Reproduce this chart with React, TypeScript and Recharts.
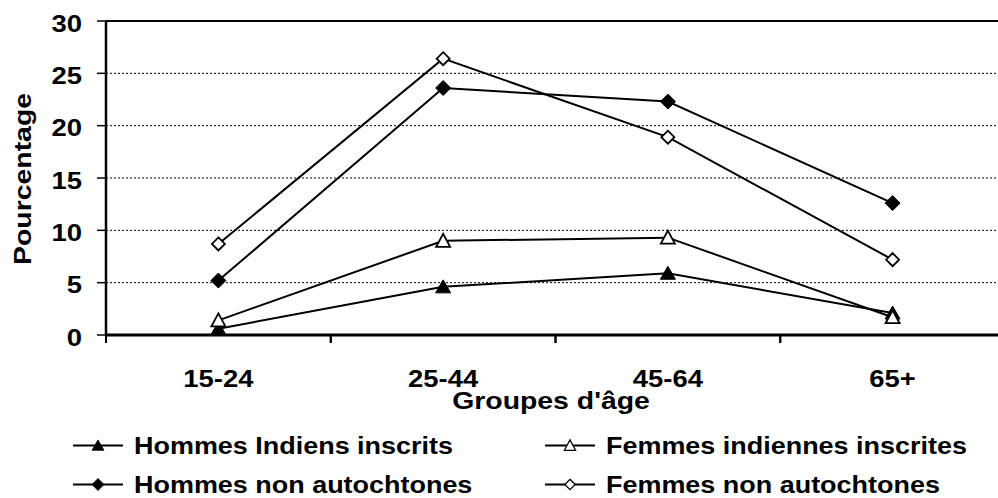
import { LineChart, Line, XAxis, YAxis, CartesianGrid, ReferenceLine } from "recharts";

// age groups and percentages
const AGES = ["15-24", "25-44", "45-64", "65+"];
const HOMMES_INDIENS = [0.6, 4.6, 5.9, 2.1];
const FEMMES_INDIENNES = [1.4, 9.0, 9.3, 1.7];
const HOMMES_NON_AUTO = [5.2, 23.6, 22.3, 12.6];
const FEMMES_NON_AUTO = [8.7, 26.4, 18.9, 7.2];
const Y_TICKS = [0, 5, 10, 15, 20, 25, 30];

const SERIES = [
  { key: "hi", name: "Hommes Indiens inscrits", values: HOMMES_INDIENS, shape: "triangle", filled: true },
  { key: "fi", name: "Femmes indiennes inscrites", values: FEMMES_INDIENNES, shape: "triangle", filled: false },
  { key: "hn", name: "Hommes non autochtones", values: HOMMES_NON_AUTO, shape: "diamond", filled: true },
  { key: "fn", name: "Femmes non autochtones", values: FEMMES_NON_AUTO, shape: "diamond", filled: false },
];

const data = AGES.map((age, i) => {
  const row: Record<string, string | number> = { age };
  SERIES.forEach((s) => (row[s.key] = s.values[i]));
  return row;
});

const FONT = "'Liberation Sans', Arial, sans-serif";
const FONT_SIZE = 24.5;
const HALF_BAND = 112.4;

// bold text, stretched along its own direction (reference text is wider than Arial)
const Txt = ({ x, y, anchor = "start", rotate = 0, stretch = 1.12, children }: any) => (
  <text
    transform={`translate(${x},${y}) rotate(${rotate}) scale(${stretch},1)`}
    x={0}
    y={0}
    textAnchor={anchor}
    fontFamily={FONT}
    fontWeight="bold"
    fontSize={FONT_SIZE}
    fill="#000"
  >
    {children}
  </text>
);

const markerPath = (shape: string, cx: number, cy: number, filled: boolean) => {
  if (shape === "triangle") {
    const w = filled ? 7.5 : 7;
    return `M${cx},${cy - 7} L${cx + w},${cy + 6} L${cx - w},${cy + 6} Z`;
  }
  const r = filled ? 7.5 : 6.5;
  return `M${cx},${cy - r} L${cx + r},${cy} L${cx},${cy + r} L${cx - r},${cy} Z`;
};

const makeDot = (shape: string, filled: boolean) => (props: any) => {
  const { cx, cy, index } = props;
  return (
    <path
      key={`dot-${shape}-${filled}-${index}`}
      d={markerPath(shape, cx, cy, filled)}
      fill={filled ? "#000" : "#fff"}
      stroke="#000"
      strokeWidth={filled ? 1 : 1.8}
    />
  );
};

const AgeTick = (props: any) => {
  const { x, y, payload } = props;
  return (
    <g>
      <line x1={x - HALF_BAND} x2={x - HALF_BAND} y1={y - 8} y2={y} stroke="#000" strokeWidth={2} />
      <line x1={x + HALF_BAND} x2={x + HALF_BAND} y1={y - 8} y2={y} stroke="#000" strokeWidth={2} />
      <Txt x={x} y={y + 44} anchor="middle">
        {payload.value}
      </Txt>
    </g>
  );
};

const PctTick = (props: any) => {
  const { x, y, payload } = props;
  return (
    <Txt x={x} y={y + 10.5} anchor="end">
      {payload.value}
    </Txt>
  );
};

const LegendBox = () => {
  const cols = [73, 545];
  const rows = [445.5, 484.5];
  return (
    <svg width={998} height={498} style={{ position: "absolute", left: 0, top: 0, pointerEvents: "none" }}>
      {SERIES.map((s, i) => {
        const x = cols[i % 2];
        const y = rows[Math.floor(i / 2)];
        return (
          <g key={s.key}>
            <line x1={x} x2={x + 50} y1={y} y2={y} stroke="#000" strokeWidth={2} />
            <path
              d={markerPath(s.shape, x + 25, y, s.filled)}
              transform={`translate(${x + 25},${y}) scale(0.8) translate(${-(x + 25)},${-y})`}
              fill={s.filled ? "#000" : "#fff"}
              stroke="#000"
              strokeWidth={s.filled ? 1 : 1.6}
            />
            <Txt x={x + 61} y={y + 8.5} stretch={1.1}>
              {s.name}
            </Txt>
          </g>
        );
      })}
    </svg>
  );
};

export default function App() {
  return (
    <div style={{ position: "absolute", left: 0, top: 0, width: 998, height: 498, overflow: "hidden", background: "#fff" }}>
      <LineChart width={1010} height={498} data={data} margin={{ top: 21, right: 5, bottom: 133, left: 0 }}>
        <CartesianGrid horizontal vertical={false} stroke="#000" strokeDasharray="2 2" strokeWidth={1} />
        <ReferenceLine y={30} stroke="#000" strokeWidth={2} />
        <XAxis
          dataKey="age"
          padding={{ left: HALF_BAND, right: HALF_BAND }}
          axisLine={{ stroke: "#000", strokeWidth: 3 }}
          tickLine={false}
          tickSize={8}
          tickMargin={0}
          height={30}
          tick={<AgeTick />}
          interval={0}
          label={{
            content: () => (
              <Txt x={551} y={409} anchor="middle" stretch={1.16}>
                Groupes d'âge
              </Txt>
            ),
          }}
        />
        <YAxis
          domain={[0, 30]}
          ticks={Y_TICKS}
          width={106}
          axisLine={{ stroke: "#000", strokeWidth: 2.5 }}
          tickLine={{ stroke: "#000", strokeWidth: 1.5 }}
          tickSize={9}
          tickMargin={15}
          tick={<PctTick />}
          label={{
            content: () => (
              <Txt x={30.5} y={179} rotate={-90} anchor="middle" stretch={1.16}>
                Pourcentage
              </Txt>
            ),
          }}
        />
        {SERIES.map((s) => (
          <Line
            key={s.key}
            dataKey={s.key}
            name={s.name}
            stroke="#000"
            strokeWidth={2}
            dot={makeDot(s.shape, s.filled)}
            activeDot={false}
            isAnimationActive={false}
          />
        ))}
      </LineChart>
      <LegendBox />
    </div>
  );
}
